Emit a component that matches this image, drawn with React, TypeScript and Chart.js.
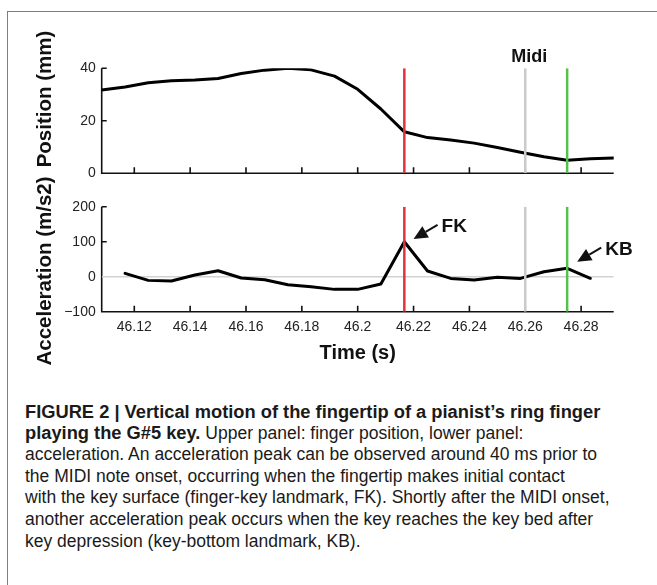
import React, { useEffect, useRef } from 'react';
import { Chart, registerables } from 'chart.js';

Chart.register(...registerables);

// ---------- data ----------
const positionTimes = [
  46.1083, 46.1167, 46.125, 46.1333, 46.1417, 46.15, 46.1583, 46.1667, 46.175, 46.1833,
  46.1917, 46.2, 46.2083, 46.2167, 46.225, 46.2333, 46.2417, 46.25, 46.2583, 46.2667,
  46.275, 46.2833, 46.2917,
];
const positionValues = [
  31.7, 32.9, 34.5, 35.3, 35.5, 36.1, 38.0, 39.3, 40.0, 39.4,
  37.0, 32.0, 24.5, 15.8, 13.6, 12.7, 11.5, 9.8, 8.0, 6.3,
  5.0, 5.5, 5.8,
];
const accelTimes = [
  46.1167, 46.125, 46.1333, 46.1417, 46.15, 46.1583, 46.1667, 46.175, 46.1833, 46.1917,
  46.2, 46.2083, 46.2167, 46.225, 46.2333, 46.2417, 46.25, 46.2583, 46.2667, 46.275,
  46.2833,
];
const accelValues = [
  9.5, -10.5, -12.4, 4.8, 17.1, -3.8, -8.6, -22.9, -28.6, -36.2,
  -36.2, -21, 100, 16.2, -4.8, -9.5, -1.9, -4.8, 14.3, 24, -4.6,
];
const timeTicks = [46.12, 46.14, 46.16, 46.18, 46.2, 46.22, 46.24, 46.26, 46.28];
const timeTickLabels = ['46.12', '46.14', '46.16', '46.18', '46.2', '46.22', '46.24', '46.26', '46.28'];
const positionTicks = [0, 20, 40];
const positionTickLabels = ['0', '20', '40'];
const accelTicks = [-100, 0, 100, 200];
const accelTickLabels = ['\u2212100', '0', '100', '200'];
const markerTimes = [46.2167, 46.26, 46.275]; // FK, MIDI onset, KB
const markerColors = ['#e0323e', '#cacaca', '#55c04c'];
const midiLabel = 'Midi';
const annotationLabels = ['FK', 'KB'];
const annotationTimes = [46.22, 46.2786];
const annotationValues = [108, 43];

const X_MIN = 46.10833;
const X_MAX = 46.29167;
const FONT = '"Liberation Sans", Arial, Helvetica, sans-serif';

// ---------- plugins ----------
function inwardAxes(yTicks: number[], skip: number[]) {
  return {
    id: 'inwardAxes',
    beforeDatasetsDraw(chart: any) {
      const { ctx, chartArea: a, scales } = chart;
      const xs = scales.x;
      const ys = scales.y;
      ctx.save();
      ctx.strokeStyle = '#111';
      ctx.lineWidth = 1.6;
      ctx.beginPath();
      ctx.moveTo(a.left, a.top);
      ctx.lineTo(a.left, a.bottom);
      ctx.lineTo(a.right, a.bottom);
      ctx.stroke();
      ctx.beginPath();
      timeTicks.forEach((v) => {
        const px = xs.getPixelForValue(v);
        ctx.moveTo(px, a.bottom);
        ctx.lineTo(px, a.bottom - 6);
      });
      yTicks.forEach((v) => {
        if (skip.includes(v)) return;
        const py = ys.getPixelForValue(v);
        ctx.moveTo(a.left, py);
        ctx.lineTo(a.left + 5, py);
      });
      ctx.stroke();
      ctx.restore();
    },
  };
}

const midiPlugin = {
  id: 'midiLabel',
  afterDatasetsDraw(chart: any) {
    const { ctx, chartArea: a, scales } = chart;
    const px = scales.x.getPixelForValue(markerTimes[1]);
    ctx.save();
    ctx.fillStyle = '#111';
    ctx.font = `bold 18px ${FONT}`;
    ctx.textAlign = 'center';
    ctx.textBaseline = 'alphabetic';
    ctx.fillText(midiLabel, px + 4, a.top - 6.5);
    ctx.restore();
  },
};

const arrowPlugin = {
  id: 'arrows',
  afterDatasetsDraw(chart: any) {
    const { ctx, scales } = chart;
    ctx.save();
    annotationLabels.forEach((label, i) => {
      const tx = scales.x.getPixelForValue(annotationTimes[i]);
      const ty = scales.y.getPixelForValue(annotationValues[i]);
      const tailX = tx + 24;
      const tailY = ty - 14;
      const ang = Math.atan2(tailY - ty, tailX - tx);
      const len = 14;
      const hw = 6.5;
      const bx = tx + Math.cos(ang) * len;
      const by = ty + Math.sin(ang) * len;
      const nx = -Math.sin(ang);
      const ny = Math.cos(ang);
      ctx.fillStyle = '#111';
      ctx.beginPath();
      ctx.moveTo(tx, ty);
      ctx.lineTo(bx + nx * hw, by + ny * hw);
      ctx.lineTo(bx - nx * hw, by - ny * hw);
      ctx.closePath();
      ctx.fill();
      ctx.strokeStyle = '#111';
      ctx.lineWidth = 2;
      ctx.beginPath();
      ctx.moveTo(bx, by);
      ctx.lineTo(tailX, tailY);
      ctx.stroke();
      ctx.font = `bold 19px ${FONT}`;
      ctx.textAlign = 'left';
      ctx.textBaseline = 'alphabetic';
      ctx.fillText(label, tx + 28, ty - 6.5);
    });
    ctx.restore();
  },
};

function markerDatasets(yMin: number, yMax: number) {
  return markerTimes.map((t, i) => ({
    data: [
      { x: t, y: yMin },
      { x: t, y: yMax },
    ],
    borderColor: markerColors[i],
    borderWidth: 2.5,
    pointRadius: 0,
    fill: false,
  }));
}

function xScale(showLabels: boolean) {
  return {
    type: 'linear',
    min: X_MIN,
    max: X_MAX,
    afterBuildTicks: (s: any) => {
      s.ticks = timeTicks.map((v) => ({ value: v }));
    },
    ticks: {
      display: showLabels,
      autoSkip: false,
      maxRotation: 0,
      padding: 6.6,
      color: '#222',
      font: { family: FONT, size: 14 },
      callback: (_v: any, idx: number) => timeTickLabels[idx],
    },
    grid: { display: false, drawTicks: false },
    border: { display: false },
    title: showLabels
      ? {
          display: true,
          text: 'Time (s)',
          color: '#111',
          font: { family: FONT, size: 20, weight: 'bold' },
          padding: { top: 0, bottom: 0 },
        }
      : { display: false },
    afterFit: (s: any) => {
      s.height = showLabels ? 53.3 : 0;
    },
  };
}

function yScale(min: number, max: number, ticks: number[], labels: string[]) {
  return {
    type: 'linear',
    min,
    max,
    afterBuildTicks: (s: any) => {
      s.ticks = ticks.map((v) => ({ value: v }));
    },
    ticks: {
      padding: 6,
      color: '#222',
      font: { family: FONT, size: 14 },
      callback: (_v: any, idx: number) => labels[idx],
    },
    grid: { display: false, drawTicks: false },
    border: { display: false },
    afterFit: (s: any) => {
      s.width = 101.7;
    },
  };
}

export default function App() {
  const topRef = useRef<HTMLCanvasElement>(null);
  const botRef = useRef<HTMLCanvasElement>(null);

  useEffect(() => {
    const common = {
      responsive: false,
      animation: false,
      devicePixelRatio: 1,
      events: [],
      plugins: { legend: { display: false }, tooltip: { enabled: false } },
    };

    const top = new Chart(topRef.current as HTMLCanvasElement, {
      type: 'line',
      data: {
        datasets: [
          ...markerDatasets(0, 40),
          {
            data: positionTimes.map((t, i) => ({ x: t, y: positionValues[i] })),
            borderColor: '#000',
            borderWidth: 3,
            pointRadius: 0,
            tension: 0,
            borderJoinStyle: 'round',
            borderCapStyle: 'round',
            fill: false,
          },
        ],
      },
      options: {
        ...common,
        layout: { padding: { left: 0, top: 68.3, right: 43.3, bottom: 16.7 } },
        scales: {
          x: xScale(false),
          y: yScale(0, 40, positionTicks, positionTickLabels),
        },
      } as any,
      plugins: [inwardAxes(positionTicks, [0]), midiPlugin],
    } as any);

    const bot = new Chart(botRef.current as HTMLCanvasElement, {
      type: 'line',
      data: {
        datasets: [
          ...markerDatasets(-100, 200),
          {
            data: accelTimes.map((t, i) => ({ x: t, y: accelValues[i] })),
            borderColor: '#000',
            borderWidth: 3,
            pointRadius: 0,
            tension: 0,
            borderJoinStyle: 'round',
            borderCapStyle: 'round',
            fill: false,
          },
          {
            data: [
              { x: X_MIN, y: 0 },
              { x: X_MAX, y: 0 },
            ],
            borderColor: '#d2d2d2',
            borderWidth: 1.6,
            pointRadius: 0,
            fill: false,
          },
        ],
      },
      options: {
        ...common,
        layout: { padding: { left: 0, top: 16.7, right: 43.3, bottom: 0 } },
        scales: {
          x: xScale(true),
          y: yScale(-100, 200, accelTicks, accelTickLabels),
        },
      } as any,
      plugins: [inwardAxes(accelTicks, [-100, 0]), arrowPlugin],
    } as any);

    return () => {
      top.destroy();
      bot.destroy();
    };
  }, []);

  const titleStyle: React.CSSProperties = {
    position: 'absolute',
    left: 44,
    transform: 'translate(-50%, -50%) rotate(-90deg)',
    whiteSpace: 'nowrap',
    fontFamily: FONT,
    fontWeight: 'bold',
    fontSize: 20.5,
    color: '#111',
    lineHeight: 1,
  };
  const lineStyle: React.CSSProperties = { whiteSpace: 'nowrap', height: 21.67 };
  const bold: React.CSSProperties = { fontWeight: 'bold', fontSize: 18.3 };

  return (
    <div
      style={{
        position: 'absolute',
        left: 0,
        top: 0,
        width: 657,
        height: 585,
        overflow: 'hidden',
        background: '#fff',
      }}
    >
      <div
        style={{
          position: 'absolute',
          left: 7,
          top: 11,
          width: 700,
          height: 600,
          borderLeft: '1.6px solid #7d7d7d',
          borderTop: '1.6px solid #7d7d7d',
        }}
      />
      <canvas ref={topRef} width={657} height={190} style={{ position: 'absolute', left: 0, top: 0 }} />
      <canvas ref={botRef} width={657} height={175} style={{ position: 'absolute', left: 0, top: 190 }} />
      <div style={{ ...titleStyle, top: 99 }}>Position (mm)</div>
      <div style={{ ...titleStyle, top: 270.5 }}>Acceleration (m/s2)</div>
      <div
        style={{
          position: 'absolute',
          left: 25,
          top: 400.8,
          fontFamily: FONT,
          fontSize: 17.5,
          lineHeight: '21.67px',
          color: '#1a1a1a',
        }}
      >
        <div style={lineStyle}>
          <span style={bold}>FIGURE 2 | Vertical motion of the fingertip of a pianist’s ring finger</span>
        </div>
        <div style={lineStyle}>
          <span style={bold}>playing the G#5 key.</span> Upper panel: finger position, lower panel:
        </div>
        <div style={lineStyle}>acceleration. An acceleration peak can be observed around 40 ms prior to</div>
        <div style={lineStyle}>the MIDI note onset, occurring when the fingertip makes initial contact</div>
        <div style={lineStyle}>with the key surface (finger-key landmark, FK). Shortly after the MIDI onset,</div>
        <div style={lineStyle}>another acceleration peak occurs when the key reaches the key bed after</div>
        <div style={lineStyle}>key depression (key-bottom landmark, KB).</div>
      </div>
    </div>
  );
}
